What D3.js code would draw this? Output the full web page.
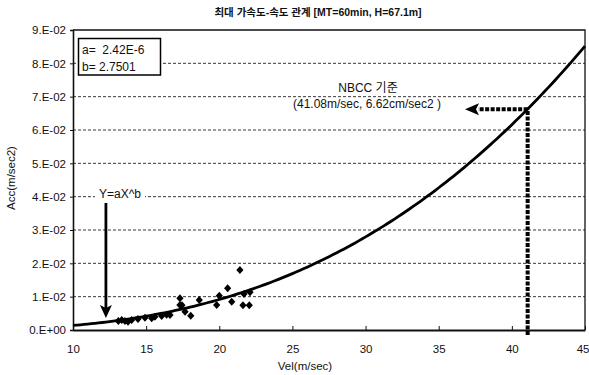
<!DOCTYPE html>
<html>
<head>
<meta charset="utf-8">
<script src="https://cdn.jsdelivr.net/npm/d3@7"></script>
<style>
  html, body { margin: 0; padding: 0; background: #fff; }
  svg { display: block; }
  text { font-family: "Liberation Sans", Arial, "Noto Sans CJK KR", sans-serif; fill: #111; }
</style>
</head>
<body>
<svg id="chart" width="589" height="375"></svg>
<script>
// Measured peak acceleration vs. velocity
const velocity = [13.1, 13.33, 13.55, 13.76, 14.01, 14.44, 14.92, 15.38, 15.6, 16.06, 16.4, 16.63,
                  17.31, 17.31, 17.45, 17.66, 18.05, 18.63, 19.82, 20.0, 20.57, 20.85, 21.41,
                  21.62, 21.69, 22.05, 22.1];
const accel    = [0.0027, 0.0030, 0.0027, 0.0025, 0.0030, 0.0033, 0.0037, 0.0035, 0.0040, 0.0042, 0.0046, 0.0045,
                  0.0095, 0.0075, 0.0074, 0.0055, 0.0043, 0.0090, 0.0075, 0.0103, 0.0125, 0.0085, 0.0180,
                  0.0074, 0.0108, 0.0074, 0.0113];

// Power-law fit Y = a X^b
const fitA = 2.42e-6;
const fitB = 2.7501;

// Axis ticks
const xTicks = [10, 15, 20, 25, 30, 35, 40, 45];
const yTicks = [0, 0.01, 0.02, 0.03, 0.04, 0.05, 0.06, 0.07, 0.08, 0.09];
const yTickLabels = ["0.E+00", "1.E-02", "2.E-02", "3.E-02", "4.E-02", "5.E-02", "6.E-02", "7.E-02", "8.E-02", "9.E-02"];

// NBCC reference point (41.08 m/sec, 6.62 cm/sec2)
const nbccVel = [41.08];
const nbccAcc = [0.0662];
// Position of the "Y=aX^b" pointer along the velocity axis
const pointerVel = [12.25];

const title = "최대 가속도-속도 관계 [MT=60min, H=67.1m]";

const svg = d3.select("#chart");
const L = 73, R = 585, T = 30, B = 330;

const x = d3.scaleLinear().domain([10, 45]).range([L, R]);
const y = d3.scaleLinear().domain([0, 0.09]).range([B, T]);

// Title
svg.append("text")
  .attr("x", 318).attr("y", 16)
  .attr("text-anchor", "middle")
  .attr("font-size", 10.5)
  .attr("font-weight", "bold")
  .text(title);

// Horizontal dashed grid lines
svg.append("g")
  .selectAll("line")
  .data(yTicks.filter(v => v > 0 && v < 0.09))
  .join("line")
  .attr("x1", L).attr("x2", R)
  .attr("y1", d => y(d)).attr("y2", d => y(d))
  .attr("stroke", "#222")
  .attr("stroke-width", 0.9)
  .attr("stroke-dasharray", "3,2");

// Plot frame (top / right)
svg.append("path")
  .attr("d", `M${L},${T}H${R}V${B}`)
  .attr("fill", "none")
  .attr("stroke", "#111")
  .attr("stroke-width", 1.3);

// Y axis
const yAxis = d3.axisLeft(y)
  .tickValues(yTicks)
  .tickFormat((d, i) => yTickLabels[i])
  .tickSize(3)
  .tickPadding(4);
const gy = svg.append("g").attr("transform", `translate(${L},0)`).call(yAxis);
gy.select(".domain").attr("stroke", "#111").attr("stroke-width", 1.6);
gy.selectAll(".tick line").attr("stroke", "#111");
gy.selectAll("text").attr("font-size", 11.5).attr("fill", "#111");

// X axis (ticks pointing into the plot)
const xAxis = d3.axisBottom(x)
  .tickValues(xTicks)
  .tickFormat(d3.format("d"))
  .tickSizeInner(-4)
  .tickSizeOuter(0)
  .tickPadding(15);
const gx = svg.append("g").attr("transform", `translate(0,${B})`).call(xAxis);
gx.select(".domain").attr("stroke", "#111").attr("stroke-width", 2.2);
gx.selectAll(".tick line").attr("stroke", "#111");
gx.selectAll("text").attr("font-size", 11.5).attr("fill", "#111");
// keep the last label inside the page edge
gx.selectAll(".tick text").filter(d => d === 45)
  .attr("text-anchor", "end").attr("x", 589 - x(45));

// Axis titles
svg.append("text")
  .attr("x", 305).attr("y", 370)
  .attr("text-anchor", "middle")
  .attr("font-size", 11.5)
  .text("Vel(m/sec)");

svg.append("text")
  .attr("transform", `translate(15,178) rotate(-90)`)
  .attr("text-anchor", "middle")
  .attr("font-size", 11.5)
  .text("Acc(m/sec2)");

// Fitted power-law curve
const curveVel = d3.range(10, 45.001, 0.25);
const curve = d3.line()
  .x(v => x(v))
  .y(v => y(fitA * Math.pow(v, fitB)));
svg.append("path")
  .datum(curveVel)
  .attr("d", curve)
  .attr("fill", "none")
  .attr("stroke", "#000")
  .attr("stroke-width", 2.8);

// Data points (diamonds)
const diamond = "M0,-4L3.6,0L0,4L-3.6,0Z";
svg.append("g")
  .selectAll("path")
  .data(velocity.map((v, i) => [v, accel[i]]))
  .join("path")
  .attr("transform", d => `translate(${x(d[0])},${y(d[1])})`)
  .attr("d", diamond)
  .attr("fill", "#000");

// NBCC marker: vertical dotted line up to the curve, then dotted arrow to the label
const nx = x(nbccVel[0]), ny = y(nbccAcc[0]);
svg.append("line")
  .attr("x1", nx).attr("x2", nx)
  .attr("y1", B + 5).attr("y2", ny)
  .attr("stroke", "#000")
  .attr("stroke-width", 4)
  .attr("stroke-dasharray", "4,1.5");
svg.append("line")
  .attr("x1", nx).attr("x2", 478)
  .attr("y1", ny).attr("y2", ny)
  .attr("stroke", "#000")
  .attr("stroke-width", 4)
  .attr("stroke-dasharray", "4,1.5");
svg.append("path")
  .attr("d", `M465,${ny}L479,${ny - 6}L476,${ny}L479,${ny + 6}Z`)
  .attr("fill", "#000");

svg.append("text")
  .attr("x", 368).attr("y", 92)
  .attr("text-anchor", "middle")
  .attr("font-size", 12)
  .text("NBCC 기준");
svg.append("text")
  .attr("x", 367).attr("y", 108)
  .attr("text-anchor", "middle")
  .attr("font-size", 12)
  .text("(41.08m/sec, 6.62cm/sec2 )");

// "Y=aX^b" pointer
const px = x(pointerVel[0]);
const py = y(fitA * Math.pow(pointerVel[0], fitB)) - 4;
svg.append("line")
  .attr("x1", px).attr("x2", px)
  .attr("y1", 203).attr("y2", py - 10)
  .attr("stroke", "#000")
  .attr("stroke-width", 2.8);
svg.append("path")
  .attr("d", `M${px},${py}L${px - 6},${py - 13}L${px},${py - 10}L${px + 6},${py - 13}Z`)
  .attr("fill", "#000");
svg.append("rect")
  .attr("x", 95).attr("y", 187).attr("width", 50).attr("height", 13)
  .attr("fill", "#fff");
svg.append("text")
  .attr("x", 120).attr("y", 198)
  .attr("text-anchor", "middle")
  .attr("font-size", 12)
  .text("Y=aX^b");

// Coefficient box
svg.append("rect")
  .attr("x", 78.5).attr("y", 38.5).attr("width", 82).attr("height", 36.5)
  .attr("fill", "#fff")
  .attr("stroke", "#000")
  .attr("stroke-width", 1.5);
svg.append("text")
  .attr("x", 82).attr("y", 53.5)
  .attr("font-size", 12)
  .attr("xml:space", "preserve")
  .text("a=  2.42E-6");
svg.append("text")
  .attr("x", 82).attr("y", 71)
  .attr("font-size", 12)
  .text("b= 2.7501");
</script>
</body>
</html>
